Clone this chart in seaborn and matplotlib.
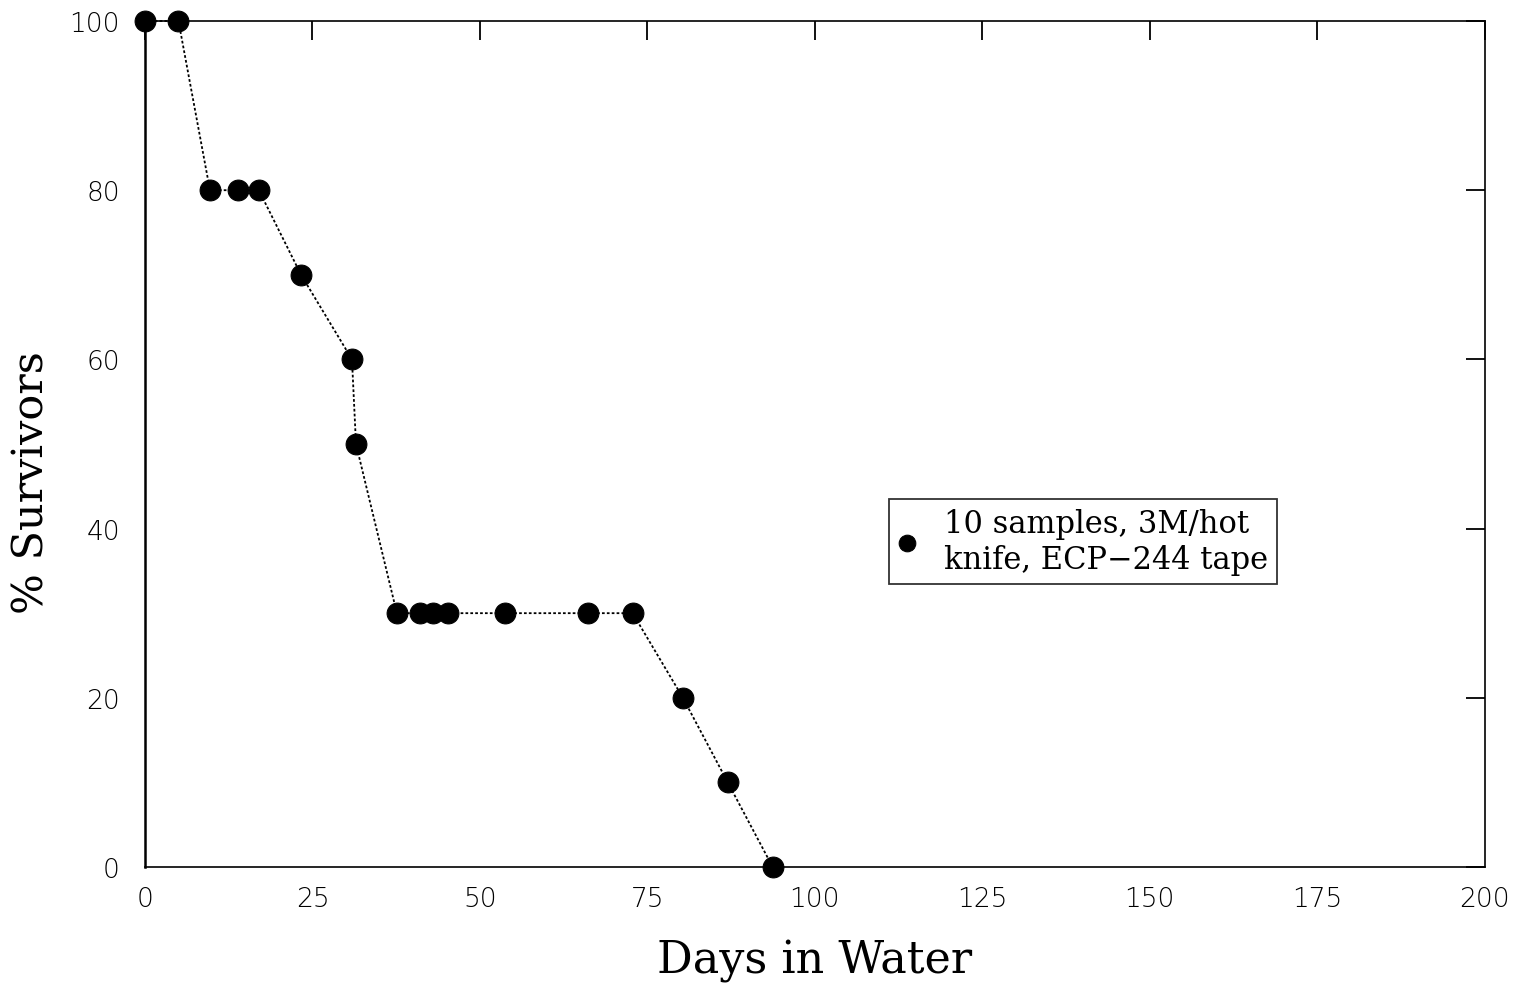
import matplotlib
matplotlib.use("Agg")
import matplotlib.pyplot as plt
import seaborn as sns
import pandas as pd

days = [0, 5, 9.7, 13.9, 17, 23.3, 30.9, 31.5, 37.6, 41, 43, 45.2, 53.7, 66.1, 72.8, 80.3, 87, 93.7]
survivors = [100, 100, 80, 80, 80, 70, 60, 50, 30, 30, 30, 30, 30, 30, 30, 20, 10, 0]
series_label = "10 samples, 3M/hot\nknife, ECP\u2212244 tape"
x_ticks = [0, 25, 50, 75, 100, 125, 150, 175, 200]
y_ticks = [0, 20, 40, 60, 80, 100]

sns.set_theme(style="white")
plt.rcParams['font.family'] = ['DejaVu Sans']
plt.rcParams['text.color'] = 'black'

df = pd.DataFrame({"Days": days, "Survivors": survivors})

fig = plt.figure(figsize=(15.15, 9.87), dpi=100)
ax = fig.add_axes([0.0957, 0.1206, 0.8843, 0.8571])

sns.lineplot(data=df, x="Days", y="Survivors", ax=ax, color="black",
             linestyle=(0, (1.5, 1.2)), linewidth=1.3, marker="o",
             markersize=15, markerfacecolor="black", markeredgecolor="black",
             label=series_label, sort=False, clip_on=False)

ax.set_xlim(0, 200)
ax.set_ylim(0, 100)
ax.set_xticks(x_ticks)
ax.set_yticks(y_ticks)
ax.tick_params(direction="in", length=14, width=1.3, top=True, right=True,
               labelsize=19, colors="black", labelcolor="black")
ax.tick_params(axis="x", pad=14)
ax.tick_params(axis="y", pad=18)
for lab in ax.get_xticklabels() + ax.get_yticklabels():
    lab.set_fontweight("light")

for side in ["left", "bottom", "top", "right"]:
    ax.spines[side].set_visible(True)
    ax.spines[side].set_color("black")
ax.spines["left"].set_linewidth(1.8)
ax.spines["bottom"].set_linewidth(1.2)
ax.spines["top"].set_linewidth(1.2)
ax.spines["right"].set_linewidth(1.2)

ax.set_xlabel("Days in Water", fontsize=32, family="DejaVu Serif", labelpad=20,
              color="black")
ax.set_ylabel("% Survivors", fontsize=31, family="DejaVu Serif", color="black")
ax.yaxis.set_label_coords(-0.069, 0.455)

leg = ax.legend(loc="lower left", bbox_to_anchor=(0.555, 0.334), frameon=True,
                fancybox=False, edgecolor="black", handlelength=0.6,
                handletextpad=0.9, borderpad=0.3, borderaxespad=0,
                prop={"family": "DejaVu Serif", "size": 22})
leg.get_frame().set_linewidth(1.3)
for t in leg.get_texts():
    t.set_color("black")
for h in leg.legend_handles:
    h.set_linestyle("none")
    h.set_markersize(12)

fig.savefig("out.png", dpi=100)
